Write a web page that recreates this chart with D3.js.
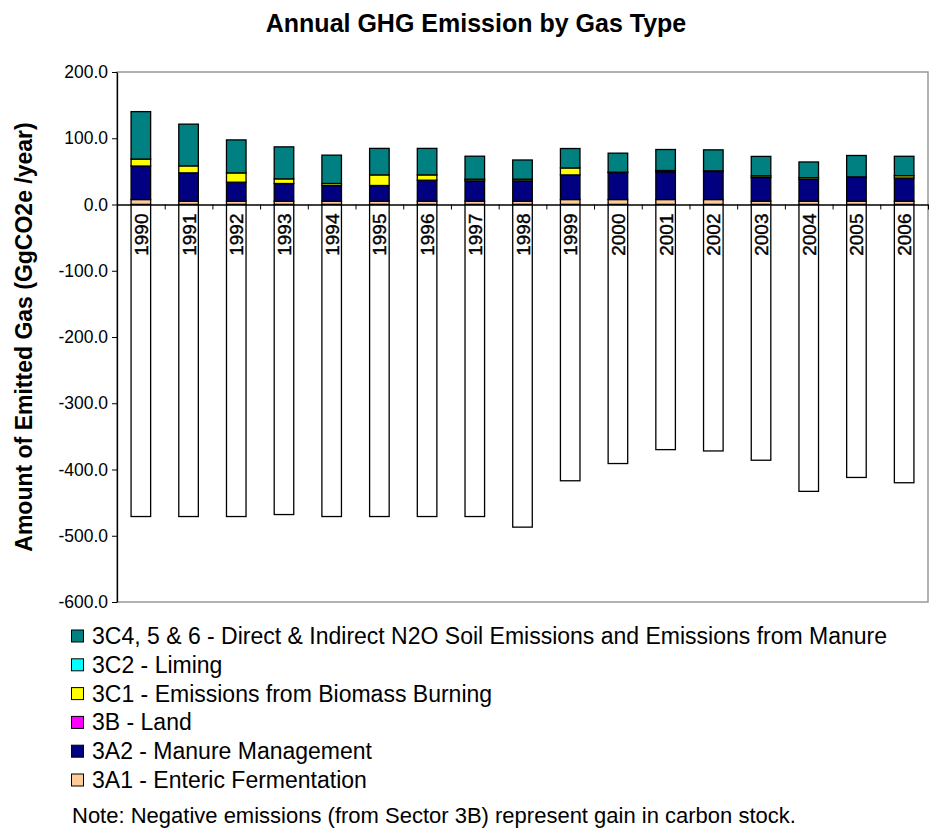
<!DOCTYPE html>
<html>
<head>
<meta charset="utf-8">
<script src="https://cdn.jsdelivr.net/npm/d3@7"></script>
<style>
    body { margin: 0; background: #fff; }
    svg { display: block; font-family: "Liberation Sans", Arial, sans-serif; }
    .axis text { font-size: 17.5px; fill: #000; }
    .axis path, .axis line { stroke: #000; }
</style>
</head>
<body>
<div id="container"></div>
<script>
"use strict";

const WIDTH = 930;
const HEIGHT = 828;

const YEARS = ["1990", "1991", "1992", "1993", "1994", "1995", "1996", "1997", "1998",
    "1999", "2000", "2001", "2002", "2003", "2004", "2005", "2006"];

// GgCO2e / year
const A1_ENTERIC = [7.5, 5, 5, 5, 5, 5, 5, 5, 5, 7.5, 7.5, 7.5, 7.5, 5, 5, 5, 5];
const A2_MANURE = [50.6, 42.8, 28.7, 26.7, 23.7, 23.7, 31.7, 30.7, 30.7, 37.2, 40.8, 41.8, 42.3, 35.8, 33, 36, 35];
const B_LAND = [-471, -471, -471, -468, -471, -471, -471, -471, -487, -417, -391, -370, -372, -386, -433, -412, -420];
const C1_BIOMASS = [10.5, 10.5, 14, 7, 3, 16, 8, 2.5, 2.5, 10.5, 0.5, 2, 1, 2.5, 2.5, 0.7, 3.5];
const C2_LIMING = [0, 0, 0, 0, 0, 0, 0, 0, 0, 0, 0, 0, 0, 0, 0, 0, 0];
const C4_N2O = [71.6, 63, 49.8, 48.3, 42.8, 40, 40, 34.7, 29, 29.3, 28.7, 31.7, 31.7, 29.3, 23.7, 32.3, 29.3];

const SERIES = [
    { key: "a1", name: "3A1 - Enteric Fermentation", color: "#FFCC99", values: A1_ENTERIC },
    { key: "a2", name: "3A2 - Manure Management", color: "#000080", values: A2_MANURE },
    { key: "b", name: "3B - Land", color: "#FF00FF", values: B_LAND },
    { key: "c1", name: "3C1 - Emissions from Biomass Burning", color: "#FFFF00", values: C1_BIOMASS },
    { key: "c2", name: "3C2 - Liming", color: "#00FFFF", values: C2_LIMING },
    { key: "c4", name: "3C4, 5 & 6 - Direct & Indirect N2O Soil Emissions and Emissions from Manure", color: "#008080", values: C4_N2O }
];

const Y_TICKS = [-600, -500, -400, -300, -200, -100, 0, 100, 200];

const PLOT = { left: 117, right: 928, top: 72, bottom: 602 };

const SVG = d3.select("#container").append("svg")
    .attr("width", WIDTH)
    .attr("height", HEIGHT);

const TABLE = YEARS.map(function (year, i) {
    const row = { year: year };
    SERIES.forEach(s => row[s.key] = s.values[i]);
    return row;
});

const xScale = d3.scaleBand()
    .domain(YEARS)
    .range([PLOT.left, PLOT.right])
    .paddingInner(0.59)
    .paddingOuter(0.295);

const xLinear = d3.scaleLinear()
    .domain([0, YEARS.length])
    .range([PLOT.left, PLOT.right]);

const yScale = d3.scaleLinear()
    .domain([-600, 200])
    .range([PLOT.bottom, PLOT.top]);

const stacked = d3.stack()
    .keys(SERIES.map(s => s.key))
    .offset(d3.stackOffsetDiverging)(TABLE);

// plot frame
SVG.append("rect")
    .attr("x", PLOT.left)
    .attr("y", PLOT.top)
    .attr("width", PLOT.right - PLOT.left)
    .attr("height", PLOT.bottom - PLOT.top)
    .attr("fill", "none")
    .attr("stroke", "#999")
    .attr("stroke-width", 1.5);

// bars
const layers = SVG.append("g");
stacked.forEach(function (layer, li) {
    const s = SERIES[li];
    layers.append("g")
        .selectAll("rect")
        .data(layer.filter(d => d[1] - d[0] !== 0))
        .join("rect")
        .attr("x", d => xScale(d.data.year))
        .attr("width", xScale.bandwidth())
        .attr("y", d => yScale(d[1]))
        .attr("height", d => yScale(d[0]) - yScale(d[1]))
        .attr("fill", s.key === "b" ? "#fff" : s.color)
        .attr("stroke", "#000")
        .attr("stroke-width", 1.3);
});

// y axis
SVG.append("g")
    .attr("class", "axis")
    .attr("transform", `translate(${PLOT.left},0)`)
    .call(d3.axisLeft(yScale)
        .tickValues(Y_TICKS)
        .tickSize(5)
        .tickSizeOuter(0)
        .tickPadding(4)
        .tickFormat(d => d.toFixed(1)))
    .call(g => g.select(".domain").attr("stroke-width", 1.3));

// zero line with category ticks
SVG.append("g")
    .attr("class", "axis")
    .attr("transform", `translate(0,${yScale(0)})`)
    .call(d3.axisBottom(xLinear)
        .tickValues(d3.range(0, YEARS.length + 1))
        .tickSize(5)
        .tickSizeOuter(0)
        .tickFormat(""))
    .call(g => g.select(".domain").attr("stroke-width", 1.3));

// year labels
SVG.append("g")
    .selectAll("text")
    .data(YEARS)
    .join("text")
    .attr("transform", d => `translate(${xScale(d) + xScale.bandwidth() / 2 + 7},${yScale(0) + 9}) rotate(-90)`)
    .attr("text-anchor", "end")
    .style("font-size", "19px")
    .style("stroke", "#000")
    .style("stroke-width", 0.4)
    .text(d => d);

// title
SVG.append("text")
    .attr("x", 476)
    .attr("y", 32)
    .attr("text-anchor", "middle")
    .style("font-size", "25px")
    .style("font-weight", "bold")
    .text("Annual GHG Emission by Gas Type");

// y axis title
SVG.append("text")
    .attr("transform", `translate(32,${(PLOT.top + PLOT.bottom) / 2}) rotate(-90)`)
    .attr("text-anchor", "middle")
    .style("font-size", "23px")
    .style("font-weight", "bold")
    .text("Amount of Emitted Gas (GgCO2e /year)");

// legend
const legendItems = SERIES.slice().reverse();
const legend = SVG.append("g")
    .selectAll("g")
    .data(legendItems)
    .join("g")
    .attr("transform", (d, i) => `translate(71,${636 + i * 28.8})`);

legend.append("rect")
    .attr("x", 0.5)
    .attr("y", -6)
    .attr("width", 12)
    .attr("height", 12)
    .attr("fill", d => d.color)
    .attr("stroke", "#000")
    .attr("stroke-width", 1);

legend.append("text")
    .attr("x", 21)
    .attr("y", 8)
    .style("font-size", "23px")
    .text(d => d.name);

SVG.append("text")
    .attr("x", 72)
    .attr("y", 823)
    .style("font-size", "22px")
    .text("Note: Negative emissions (from Sector 3B) represent gain in carbon stock.");
</script>
</body>
</html>
